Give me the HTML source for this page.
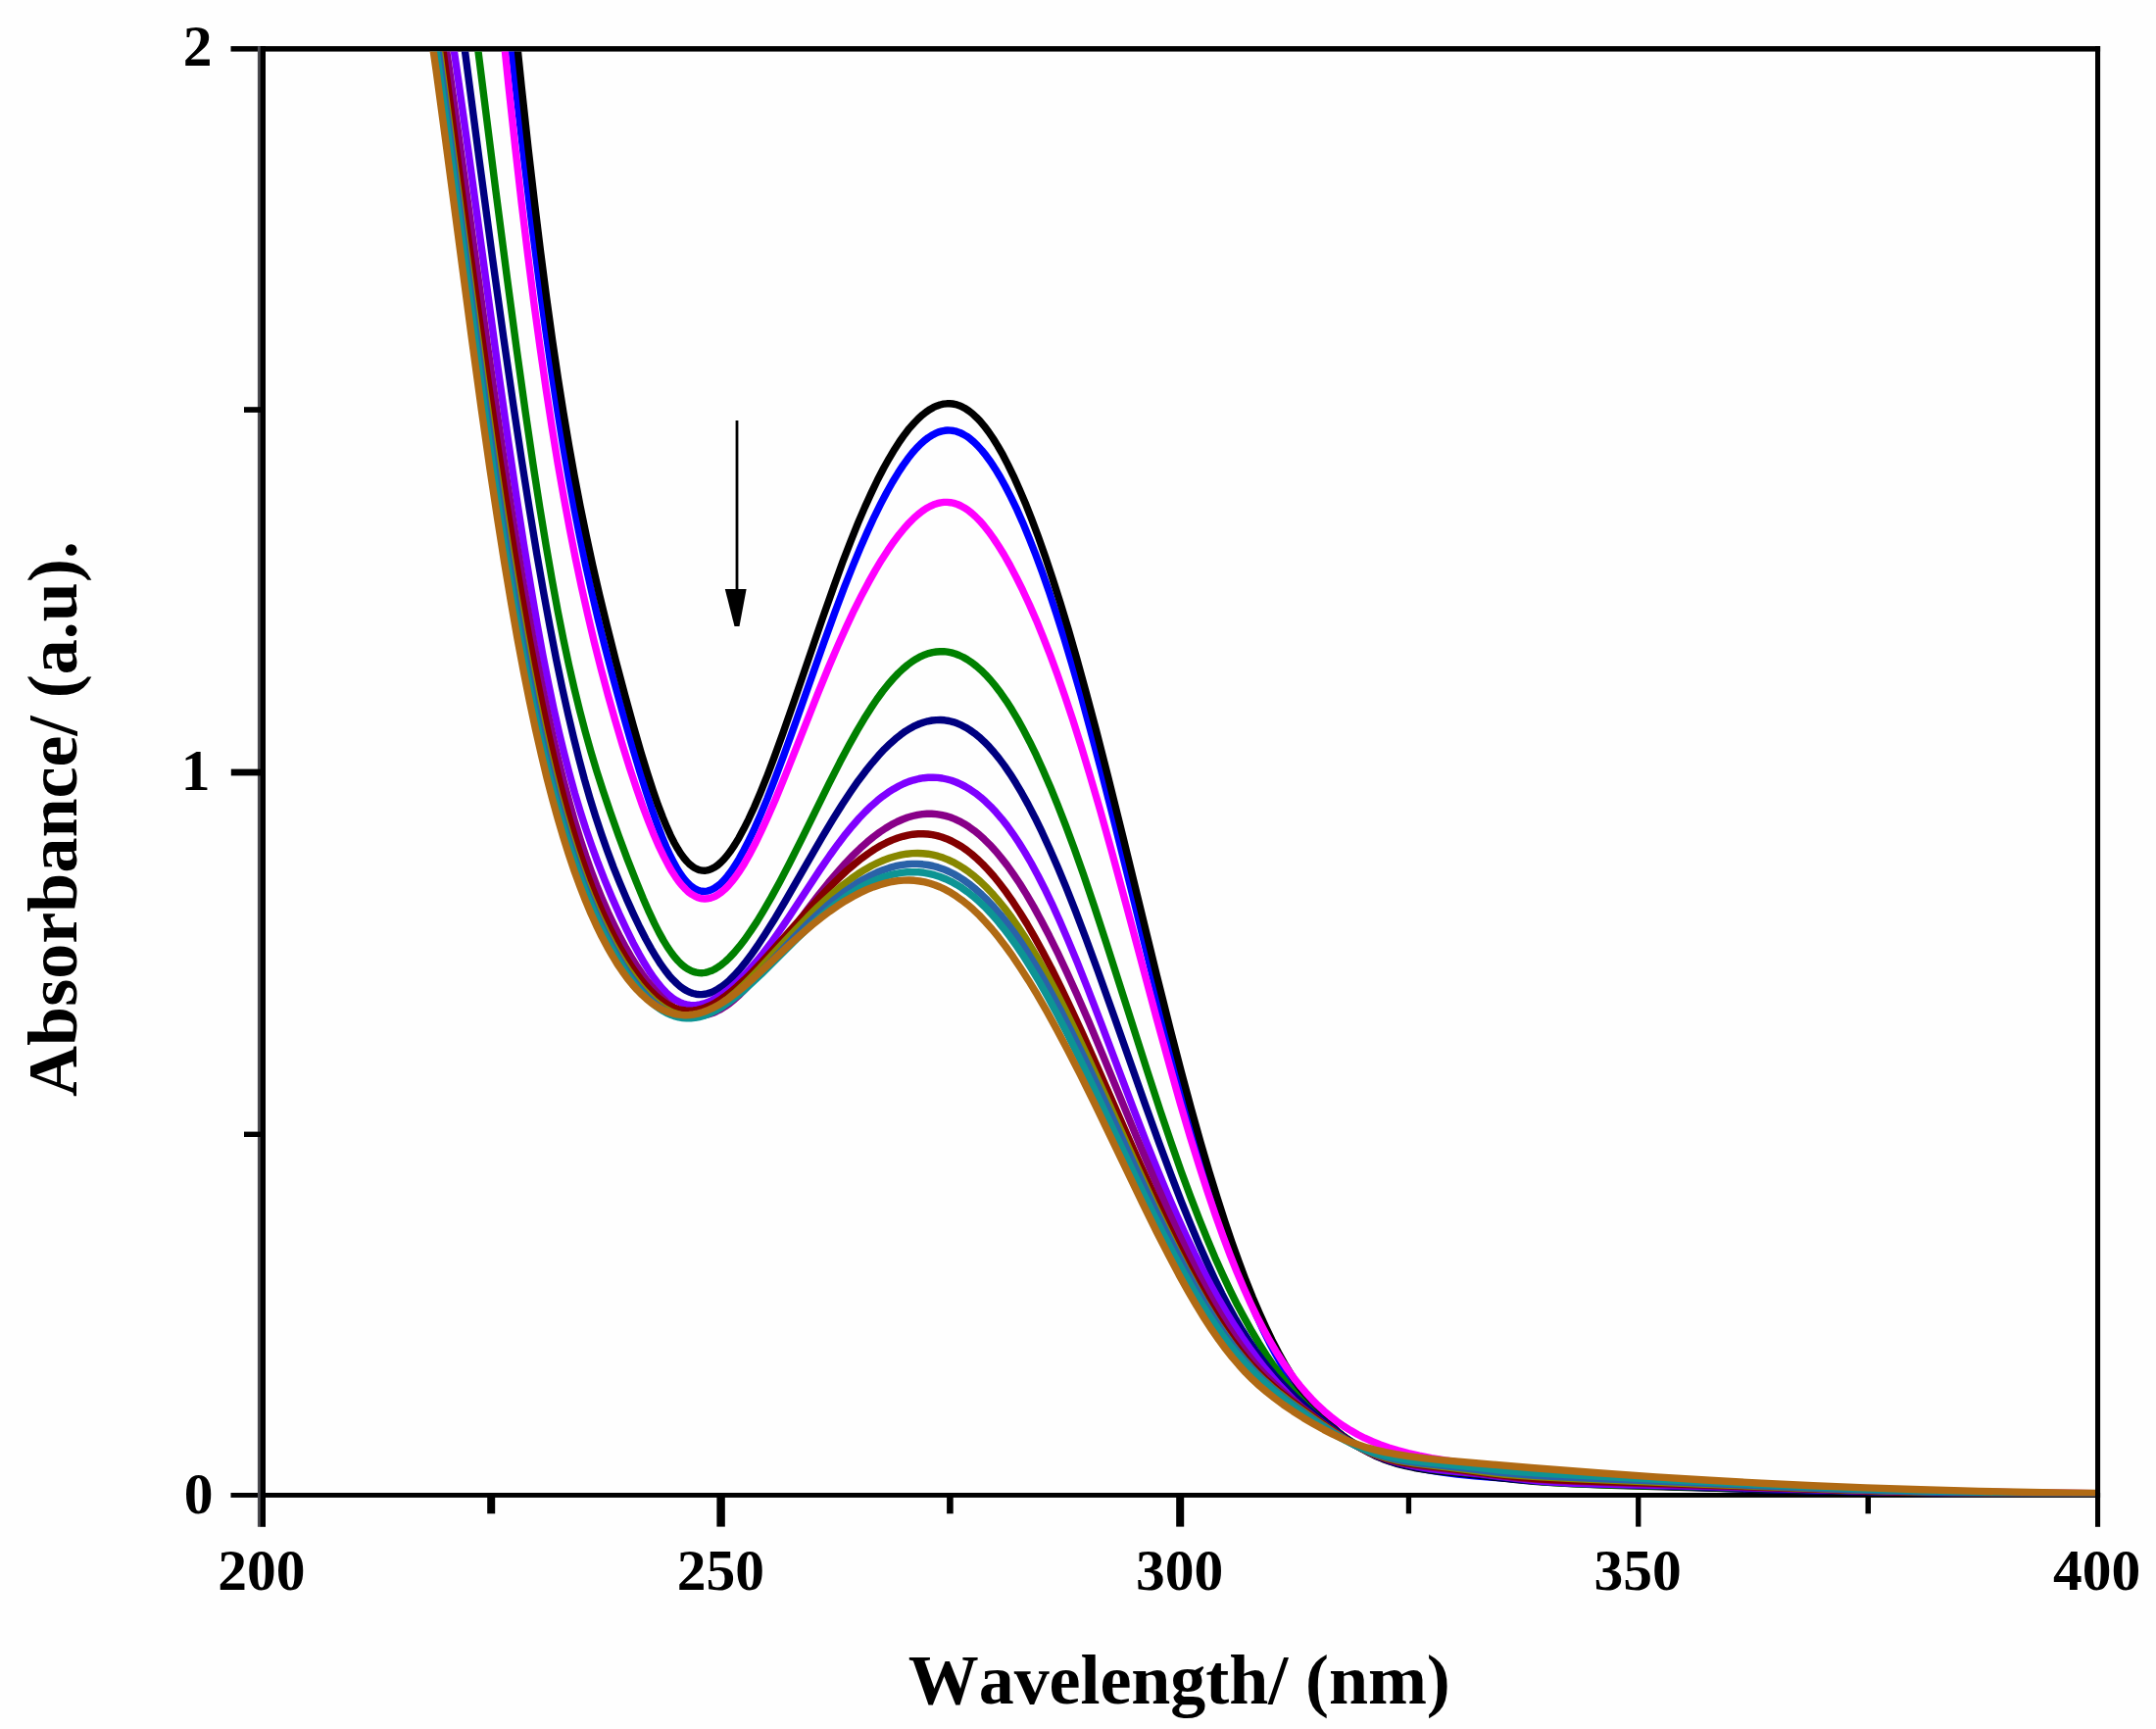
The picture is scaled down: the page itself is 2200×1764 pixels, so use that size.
<!DOCTYPE html>
<html><head><meta charset="utf-8"><title>UV-vis absorbance</title>
<style>
html,body{margin:0;padding:0;background:#fefefe;}
body{width:2200px;height:1764px;overflow:hidden;position:relative;}
svg{position:absolute;left:0;top:0;display:block}
text{font-family:"Liberation Serif","DejaVu Serif",serif;font-weight:bold;fill:#000;font-kerning:none}
.tk{font-size:59.5px;text-anchor:middle}
.lb{font-size:72px;text-anchor:middle}
</style></head><body>
<svg width="2200" height="1764" viewBox="0 0 2200 1764">
<defs><clipPath id="plot"><rect x="271" y="52.6" width="1867" height="1473.6"/></clipPath></defs>
<g fill="#000">
<rect x="235.5" y="47.1" width="1907.6" height="5.5"/>
<rect x="235.5" y="1523.0" width="1907.6" height="4.9"/>
<rect x="262.9" y="47.1" width="3.1" height="1510.7" fill="#4a4a50"/>
<rect x="265.7" y="47.1" width="5.3" height="1510.7"/>
<rect x="2138.0" y="47.1" width="5.1" height="1510.7"/>
<rect x="235.8" y="784.6" width="31.2" height="6.8"/>
<rect x="249.0" y="415.2" width="18.0" height="5.7"/>
<rect x="249.0" y="1154.6" width="18.0" height="5.4"/>
<rect x="731.4" y="1525.0" width="8.4" height="32.6"/>
<rect x="1200.2" y="1525.0" width="8.0" height="32.6"/>
<rect x="1669.1" y="1525.0" width="5.3" height="32.6"/>
<rect x="497.2" y="1525.0" width="8.0" height="19.3"/>
<rect x="966.1" y="1525.0" width="6.6" height="19.3"/>
<rect x="1434.8" y="1525.0" width="5.3" height="19.3"/>
<rect x="1903.5" y="1525.0" width="5.5" height="19.3"/>
</g>
<g clip-path="url(#plot)" fill="none" stroke-width="7.4" stroke-linejoin="round" stroke-linecap="butt">
<path d="M519.0,21.7 527.6,100.1 535.8,171.2 543.1,231.7 550.0,285.8 556.4,333.8 562.9,379.1 568.9,418.9 574.9,456.2 580.5,488.7 586.1,519.3 591.7,547.9 597.7,576.8 603.8,604.0 610.2,631.4 617.5,660.7 625.7,691.9 635.2,726.4 644.6,759.5 652.8,786.9 659.7,808.9 665.7,827.0 670.9,841.5 675.6,853.9 679.9,864.2 683.8,872.7 687.7,880.4 691.1,886.5 694.6,891.9 697.6,896.1 700.6,899.7 703.6,902.7 706.2,904.8 708.8,906.6 711.4,907.9 713.9,908.8 716.5,909.3 719.1,909.4 721.7,909.1 724.3,908.4 726.8,907.3 729.4,905.9 732.4,903.8 735.5,901.3 738.9,897.8 742.3,893.8 746.2,888.7 750.1,882.9 754.4,875.8 759.1,867.3 764.3,857.2 769.9,845.3 775.9,831.7 782.8,815.1 790.5,795.3 800.0,770.0 812.5,735.3 840.0,657.4 851.6,625.4 861.5,599.3 870.2,577.5 877.9,558.9 885.2,542.2 892.1,527.3 898.6,514.2 904.6,502.7 910.6,492.0 916.2,482.8 921.4,474.9 926.1,468.3 930.8,462.3 935.1,457.4 939.4,453.0 943.3,449.5 947.2,446.5 950.6,444.3 954.1,442.4 957.5,440.9 961.0,439.9 964.0,439.3 967.0,439.0 970.0,439.1 973.0,439.5 976.0,440.2 979.5,441.4 982.9,443.1 986.4,445.1 989.8,447.6 993.7,450.9 997.5,454.6 1001.8,459.4 1006.1,464.7 1010.9,471.2 1015.6,478.4 1020.8,487.0 1025.9,496.3 1031.5,507.1 1037.6,519.7 1043.6,533.2 1050.0,548.6 1056.5,565.0 1063.4,583.5 1070.7,604.3 1078.0,626.3 1085.8,650.8 1093.9,677.9 1103.0,709.3 1112.4,743.7 1123.2,784.3 1136.1,834.8 1155.1,910.9 1179.6,1010.0 1192.9,1062.5 1204.1,1105.1 1214.0,1141.5 1223.0,1173.3 1231.7,1202.3 1239.8,1228.5 1247.6,1252.2 1254.9,1273.3 1262.2,1293.4 1269.1,1311.2 1276.0,1327.9 1282.4,1342.7 1288.9,1356.6 1295.3,1369.7 1301.8,1381.8 1307.8,1392.4 1313.9,1402.3 1319.9,1411.5 1325.9,1420.1 1331.9,1428.0 1338.0,1435.3 1344.0,1442.0 1350.0,1448.2 1356.0,1453.9 1362.1,1459.2 1368.5,1464.2 1375.0,1468.9 1381.4,1473.0 1388.3,1477.0 1395.6,1480.8 1402.9,1484.2 1410.7,1487.4 1418.9,1490.3 1427.5,1492.9 1436.9,1495.5 1447.3,1497.8 1458.9,1500.0 1471.8,1502.0 1486.9,1504.0 1504.5,1505.8 1526.4,1507.6 1555.3,1509.6 1595.3,1511.8 1646.9,1514.3 1704.2,1516.6 1763.1,1518.6 1824.7,1520.2 1891.0,1521.6 1964.6,1522.7 2050.2,1523.5 2141.0,1524.1" stroke="#0000ff"/>
<path d="M525.4,22.9 532.3,89.7 539.2,152.9 545.7,208.7 551.7,257.8 557.7,304.1 563.7,347.5 569.3,385.3 574.9,420.8 580.5,454.1 586.1,485.3 592.1,516.7 598.2,546.3 604.6,576.0 611.5,606.1 619.3,638.2 628.3,673.9 637.8,709.7 646.4,741.0 654.1,767.8 660.6,788.9 666.2,806.1 671.3,820.9 676.1,833.4 680.4,843.8 684.2,852.3 688.1,860.0 691.6,866.1 695.0,871.4 698.0,875.5 701.0,879.0 703.6,881.6 706.2,883.7 708.8,885.5 711.4,886.8 713.9,887.7 716.5,888.1 719.1,888.2 721.7,887.9 724.3,887.2 726.8,886.1 729.4,884.7 732.4,882.6 735.5,879.9 738.5,876.9 741.9,872.9 745.8,867.7 749.7,861.9 754.0,854.8 758.7,846.1 763.9,835.8 769.5,823.7 775.5,809.7 782.4,792.7 790.1,772.4 799.1,747.5 811.2,712.9 839.2,631.1 850.4,599.4 859.8,573.6 868.0,552.3 875.7,533.2 882.6,517.1 889.1,502.9 895.5,489.5 901.6,477.8 907.2,467.8 912.8,458.4 917.9,450.5 923.1,443.2 927.8,437.1 932.6,431.7 936.9,427.2 941.2,423.3 945.0,420.3 948.9,417.7 952.4,415.7 955.8,414.2 959.2,413.0 962.7,412.2 966.1,411.8 969.1,411.7 972.1,412.0 975.2,412.6 978.6,413.7 982.0,415.2 985.5,417.1 988.9,419.4 992.4,422.1 996.2,425.7 1000.1,429.7 1004.4,434.8 1008.7,440.5 1013.5,447.5 1018.2,455.1 1023.4,464.2 1028.5,474.1 1034.1,485.6 1040.1,498.9 1046.2,513.2 1052.6,529.4 1059.5,547.8 1066.8,568.6 1074.1,590.5 1081.9,614.9 1090.1,641.9 1098.7,671.8 1108.1,706.0 1118.5,744.9 1130.5,792.0 1145.6,852.7 1180.4,995.3 1194.2,1050.3 1205.4,1093.6 1215.7,1132.0 1225.2,1165.9 1233.8,1195.3 1242.0,1221.9 1249.7,1246.0 1257.0,1267.5 1264.4,1288.0 1271.2,1306.2 1278.1,1323.4 1285.0,1339.5 1291.5,1353.8 1297.9,1367.1 1304.4,1379.7 1310.8,1391.3 1316.9,1401.5 1322.9,1411.0 1328.9,1419.8 1334.9,1428.0 1341.0,1435.6 1347.0,1442.6 1353.0,1449.1 1359.0,1455.0 1365.1,1460.5 1371.5,1465.8 1378.0,1470.6 1384.4,1474.9 1390.9,1478.8 1397.8,1482.5 1404.7,1485.8 1411.5,1488.7 1418.9,1491.3 1426.6,1493.7 1434.8,1495.7 1443.4,1497.5 1453.3,1499.1 1465.8,1500.8 1510.1,1505.4 1546.7,1509.5 1564.8,1511.2 1583.3,1512.6 1606.1,1513.8 1644.4,1515.2 1722.3,1517.5 1804.5,1519.6 1886.7,1521.3 1972.7,1522.7 2067.0,1523.7 2141.0,1524.3" stroke="#000000"/>
<path d="M512.1,20.2 519.0,87.8 525.9,151.6 532.3,208.2 538.8,261.6 545.2,311.9 551.3,356.1 557.3,397.7 563.3,436.8 569.3,473.5 575.4,507.9 581.4,540.1 587.4,570.5 593.4,599.0 599.9,627.7 606.3,654.8 613.2,682.1 620.5,709.5 627.9,735.5 635.2,760.1 642.5,783.5 649.4,804.2 655.8,822.5 661.9,838.5 667.5,852.3 672.6,864.0 677.4,873.9 681.7,882.1 685.5,888.8 689.4,894.8 692.8,899.6 696.3,903.8 699.7,907.4 702.7,910.2 705.8,912.4 708.8,914.2 711.4,915.4 713.9,916.3 716.5,916.8 719.1,917.0 721.7,916.8 724.3,916.4 726.8,915.6 729.9,914.3 732.9,912.5 735.9,910.4 739.3,907.5 742.8,904.1 746.6,899.6 750.5,894.6 754.8,888.5 759.6,880.9 764.7,871.9 770.3,861.3 776.3,849.0 783.2,834.0 791.0,816.2 800.9,792.2 816.4,753.3 834.4,707.8 845.6,680.5 855.1,658.4 863.7,639.2 871.4,622.8 878.8,608.2 886.1,594.4 893.0,582.1 899.4,571.4 905.9,561.4 911.9,552.7 917.5,545.3 922.7,539.0 927.8,533.3 932.6,528.5 936.9,524.7 941.2,521.4 945.0,518.8 948.9,516.6 952.8,514.8 956.2,513.7 959.7,512.8 963.1,512.4 966.6,512.4 970.0,512.7 973.4,513.4 976.9,514.5 980.3,516.0 983.8,517.9 987.6,520.4 991.5,523.5 995.4,527.0 999.7,531.3 1004.0,536.2 1008.7,542.2 1013.9,549.4 1019.1,557.2 1024.7,566.3 1030.7,576.9 1037.1,589.1 1043.6,602.2 1050.5,617.0 1057.4,632.7 1064.2,649.4 1071.6,668.2 1078.9,688.0 1086.6,710.1 1094.8,734.7 1103.4,761.8 1112.4,791.7 1122.8,827.2 1134.4,868.7 1149.9,925.8 1180.0,1038.2 1193.4,1086.8 1204.5,1126.2 1214.4,1159.7 1223.5,1189.0 1232.1,1215.6 1240.3,1239.7 1248.0,1261.3 1255.3,1280.6 1262.2,1297.9 1269.1,1314.1 1276.0,1329.4 1282.4,1342.9 1288.9,1355.5 1295.3,1367.4 1301.8,1378.4 1308.3,1388.7 1314.3,1397.6 1320.3,1405.9 1326.3,1413.6 1332.4,1420.7 1338.4,1427.3 1344.8,1433.8 1351.3,1439.8 1357.7,1445.2 1364.2,1450.2 1371.1,1455.0 1378.0,1459.3 1385.3,1463.5 1392.6,1467.2 1400.4,1470.7 1408.5,1473.9 1417.1,1477.0 1426.6,1479.9 1436.9,1482.6 1448.1,1485.2 1460.6,1487.6 1474.8,1490.0 1491.6,1492.3 1511.8,1494.7 1538.1,1497.4 1574.2,1500.5 1624.1,1504.4 1679.2,1508.3 1730.4,1511.6 1778.6,1514.3 1826.4,1516.5 1875.5,1518.4 1928.0,1520.1 1986.5,1521.5 2054.5,1522.6 2136.7,1523.6 2141.0,1523.7" stroke="#ff00ff"/>
<path d="M484.1,21.4 505.6,192.4 517.7,285.5 527.6,359.3 536.2,420.7 543.9,473.4 550.8,517.8 557.3,557.1 563.3,591.6 569.3,624.1 574.9,652.2 580.5,678.5 586.1,702.9 591.7,725.7 597.3,746.9 602.9,766.7 608.9,786.7 615.4,806.9 622.7,828.5 631.3,852.7 640.3,876.9 649.0,898.9 656.3,916.7 662.3,930.4 667.9,942.3 672.6,951.6 676.9,959.4 681.2,966.4 685.1,972.0 688.5,976.5 692.0,980.5 695.4,983.9 698.4,986.4 701.5,988.5 704.5,990.1 707.5,991.4 710.5,992.2 713.5,992.6 716.5,992.7 719.5,992.3 722.5,991.6 725.6,990.6 729.0,989.0 732.4,986.9 736.3,984.2 740.2,981.0 744.5,976.9 749.2,971.9 754.4,965.7 760.0,958.5 766.0,949.9 772.5,940.1 779.3,928.8 787.1,915.4 795.7,899.7 805.6,880.8 818.5,855.1 846.1,799.2 857.2,777.3 866.3,760.3 874.5,745.6 881.8,733.3 888.7,722.4 894.7,713.5 900.7,705.3 906.3,698.2 911.5,692.3 916.6,686.9 921.4,682.4 926.1,678.4 930.8,674.9 935.1,672.2 939.4,669.8 943.7,667.9 947.6,666.6 951.5,665.6 955.4,665.0 959.2,664.7 963.1,664.7 967.0,665.2 970.9,665.9 974.7,667.0 978.6,668.5 982.9,670.5 987.2,673.0 991.5,675.8 996.2,679.5 1001.0,683.7 1005.7,688.3 1010.9,694.0 1016.0,700.2 1021.2,707.1 1026.8,715.1 1032.4,723.8 1038.4,733.9 1044.4,744.8 1050.9,757.2 1057.4,770.4 1064.2,785.5 1071.6,802.4 1079.3,821.3 1087.5,842.3 1096.1,865.5 1105.6,892.2 1116.3,923.8 1129.2,963.1 1149.9,1027.7 1171.0,1093.7 1184.3,1134.4 1195.5,1167.3 1205.4,1195.4 1214.9,1221.1 1223.5,1243.4 1231.7,1263.7 1239.8,1282.9 1247.6,1300.2 1255.3,1316.6 1262.6,1331.3 1270.0,1345.1 1277.3,1358.2 1284.6,1370.4 1291.9,1382.0 1298.8,1392.1 1305.7,1401.7 1312.6,1410.6 1319.4,1419.0 1326.3,1426.8 1333.6,1434.5 1341.0,1441.7 1348.3,1448.3 1355.6,1454.4 1362.9,1460.0 1370.2,1465.2 1378.0,1470.2 1385.7,1474.7 1393.5,1478.9 1401.2,1482.6 1409.4,1486.0 1417.6,1489.1 1425.7,1491.7 1434.4,1494.1 1443.4,1496.2 1452.9,1498.0 1463.6,1499.6 1477.4,1501.1 1510.5,1504.4 1533.8,1507.2 1558.3,1510.1 1574.6,1511.8 1590.6,1512.9 1609.1,1513.9 1636.2,1514.8 1782.1,1518.3 1903.9,1521.3 1980.9,1522.8 2055.4,1523.9 2136.7,1524.7 2141.0,1524.7" stroke="#008000"/>
<path d="M470.4,21.0 489.3,165.1 502.6,264.0 513.8,344.2 523.7,412.5 532.3,469.5 540.5,521.2 547.8,565.3 554.7,604.7 561.2,639.7 567.6,672.7 573.6,701.6 579.7,728.8 585.3,752.4 590.9,774.6 596.4,795.3 602.0,814.6 607.6,832.7 613.7,851.0 619.7,868.0 626.1,885.1 632.6,901.2 639.5,917.4 646.4,932.6 652.8,946.0 658.8,957.8 664.4,967.9 669.6,976.6 674.3,983.9 678.6,989.9 682.9,995.4 686.8,999.7 690.7,1003.5 694.1,1006.5 697.6,1009.0 701.0,1011.0 704.0,1012.4 707.0,1013.5 710.1,1014.2 713.1,1014.5 716.1,1014.6 719.1,1014.3 722.1,1013.6 725.6,1012.6 729.0,1011.1 732.4,1009.2 736.3,1006.6 740.2,1003.7 744.5,999.9 749.2,995.2 754.4,989.5 760.0,982.7 766.0,974.8 772.9,965.0 780.6,953.3 789.7,938.8 800.9,920.0 822.4,882.7 838.7,854.5 849.9,835.9 859.4,820.8 868.0,807.8 875.7,796.7 883.1,786.9 890.0,778.3 896.4,770.8 902.4,764.3 908.0,758.9 913.6,753.9 918.8,749.8 923.9,746.1 928.7,743.2 933.4,740.6 938.2,738.5 942.5,737.0 946.8,735.8 951.1,735.0 955.4,734.6 959.7,734.5 964.0,734.8 968.3,735.5 972.6,736.6 976.9,738.1 981.2,739.9 985.5,742.2 989.8,744.9 994.5,748.2 999.3,752.1 1004.0,756.4 1009.2,761.7 1014.3,767.5 1019.5,773.9 1025.1,781.4 1030.7,789.6 1036.7,799.1 1042.7,809.2 1049.2,820.9 1056.1,834.2 1063.4,849.2 1071.1,866.0 1079.3,884.7 1087.9,905.4 1097.4,929.3 1108.1,957.5 1120.6,991.5 1137.4,1038.5 1168.8,1127.6 1183.0,1166.8 1195.1,1199.1 1205.4,1225.8 1214.9,1249.2 1223.5,1269.6 1231.7,1288.1 1239.4,1304.7 1246.7,1319.6 1254.0,1333.6 1260.9,1346.0 1267.8,1357.6 1274.3,1367.8 1280.7,1377.4 1287.2,1386.3 1293.6,1394.6 1300.5,1402.9 1307.8,1411.0 1315.6,1419.1 1323.8,1427.1 1332.8,1435.3 1343.1,1444.2 1353.9,1452.9 1363.8,1460.5 1372.8,1467.0 1381.0,1472.4 1388.7,1477.1 1396.1,1481.1 1402.9,1484.5 1409.8,1487.5 1416.7,1490.1 1423.6,1492.3 1430.9,1494.2 1438.7,1495.8 1447.7,1497.3 1459.3,1498.8 1492.9,1502.3 1514.4,1505.1 1539.4,1508.3 1555.3,1510.0 1571.2,1511.3 1590.1,1512.4 1618.1,1513.5 1705.5,1516.3 1807.9,1519.1 1891.4,1521.0 1971.4,1522.5 2054.9,1523.6 2141.0,1524.4" stroke="#000080"/>
<path d="M458.7,20.2 467.3,79.0 477.7,152.5 508.2,376.4 518.6,449.7 527.2,508.2 534.5,555.5 541.4,597.7 547.8,635.1 553.8,667.8 559.4,696.3 565.0,722.9 570.6,747.8 575.8,769.2 581.0,789.1 586.5,809.3 592.1,827.9 597.7,845.4 603.8,862.9 610.2,880.4 617.1,898.0 624.4,915.5 631.7,932.1 639.1,947.8 645.9,961.7 652.0,973.0 657.6,982.8 662.7,991.1 667.5,998.0 671.8,1003.7 675.6,1008.3 679.5,1012.4 683.4,1015.9 686.8,1018.6 690.3,1020.8 693.7,1022.6 697.2,1024.0 700.6,1024.9 704.0,1025.5 707.5,1025.7 710.9,1025.5 714.4,1024.9 718.2,1023.9 722.1,1022.6 726.4,1020.6 731.1,1018.0 735.9,1015.0 741.0,1011.3 746.6,1006.8 752.7,1001.4 758.7,995.5 765.1,988.7 772.0,980.8 778.9,972.3 786.7,962.1 794.8,950.7 804.7,936.1 822.8,908.5 837.0,886.9 846.9,872.5 855.1,861.2 862.8,851.1 869.7,842.7 876.6,834.8 883.1,828.0 889.1,822.2 895.1,816.9 900.7,812.4 906.3,808.4 911.9,804.9 917.1,802.0 922.2,799.5 927.4,797.4 932.6,795.8 937.7,794.5 942.5,793.7 947.2,793.3 951.9,793.2 956.7,793.4 961.4,794.0 966.1,795.0 970.9,796.3 975.6,798.0 980.3,800.1 985.1,802.6 990.2,805.7 995.4,809.2 1000.6,813.3 1005.7,817.8 1010.9,822.8 1016.5,828.8 1022.1,835.3 1027.7,842.4 1033.7,850.8 1039.7,859.8 1045.7,869.4 1052.2,880.5 1059.1,893.2 1066.0,906.7 1073.3,921.8 1081.0,938.8 1089.6,958.6 1099.1,981.4 1109.9,1008.5 1124.1,1045.4 1156.8,1131.9 1170.1,1166.3 1181.3,1194.2 1191.6,1218.9 1201.1,1240.7 1210.1,1260.5 1218.7,1278.6 1227.4,1295.8 1235.5,1311.3 1243.7,1326.0 1251.9,1339.9 1259.6,1352.4 1267.4,1364.3 1275.1,1375.4 1282.9,1386.0 1290.6,1395.9 1298.4,1405.2 1306.1,1413.9 1313.9,1422.1 1321.6,1429.8 1329.3,1437.0 1337.5,1444.0 1345.7,1450.5 1353.9,1456.6 1362.1,1462.1 1370.2,1467.3 1378.8,1472.2 1387.4,1476.7 1396.1,1480.7 1404.7,1484.3 1413.3,1487.6 1421.9,1490.4 1430.9,1492.9 1439.9,1495.1 1449.4,1496.9 1459.7,1498.5 1472.7,1500.1 1510.5,1503.9 1532.9,1506.6 1557.9,1509.6 1573.8,1511.2 1589.3,1512.4 1606.9,1513.3 1631.9,1514.1 1732.6,1516.4 1816.5,1518.8 1911.2,1521.5 1975.3,1523.0 2037.7,1524.0 2106.6,1524.8 2141.0,1525.0" stroke="#7f00ff"/>
<path d="M451.0,20.2 459.6,78.9 470.8,158.5 498.3,358.8 509.1,434.7 518.1,495.9 525.9,545.9 533.2,590.8 540.1,630.8 546.5,666.1 552.6,697.2 558.6,726.4 564.2,751.8 569.8,775.7 575.4,798.0 581.0,818.8 586.5,838.2 592.1,856.3 597.7,873.2 603.3,888.9 608.9,903.6 614.5,917.3 620.5,931.0 626.6,943.8 632.6,955.8 638.6,966.9 644.6,977.3 650.2,986.2 655.8,994.4 661.0,1001.4 666.2,1007.8 670.9,1013.2 675.6,1018.0 679.9,1022.0 684.2,1025.5 688.5,1028.5 692.4,1030.8 696.3,1032.7 700.2,1034.2 704.0,1035.3 707.9,1036.0 711.8,1036.2 715.7,1036.1 719.5,1035.6 723.4,1034.7 727.3,1033.5 731.1,1031.8 735.5,1029.6 739.8,1026.9 744.5,1023.6 749.7,1019.4 754.8,1014.7 760.8,1008.7 767.3,1001.6 774.6,993.1 783.2,982.3 794.4,967.7 824.1,927.6 835.7,912.5 845.6,900.2 854.7,889.6 862.8,880.5 870.6,872.4 877.9,865.3 884.8,859.2 891.2,853.9 897.7,849.0 903.7,845.0 909.7,841.4 915.3,838.5 920.9,836.0 926.1,834.0 931.3,832.5 936.4,831.3 941.2,830.6 945.9,830.3 950.6,830.2 955.4,830.6 960.1,831.3 964.8,832.4 969.6,833.8 974.3,835.6 979.0,837.8 983.8,840.4 988.9,843.7 994.1,847.4 999.3,851.6 1004.4,856.3 1010.0,861.8 1015.6,867.9 1021.6,875.1 1027.7,882.9 1034.1,891.9 1040.6,901.5 1047.5,912.6 1054.8,925.1 1062.5,939.1 1070.7,954.8 1079.3,972.2 1088.8,992.3 1099.1,1015.1 1111.2,1042.8 1126.2,1078.6 1164.9,1172.4 1179.6,1206.9 1191.6,1234.5 1202.4,1258.2 1212.3,1279.1 1221.3,1297.3 1229.9,1313.8 1237.7,1327.9 1245.0,1340.4 1252.3,1352.3 1259.2,1362.8 1266.1,1372.6 1272.5,1381.2 1279.0,1389.2 1285.4,1396.6 1292.3,1404.0 1299.7,1411.2 1307.4,1418.3 1316.4,1426.1 1327.6,1435.2 1342.3,1446.4 1356.5,1456.9 1367.2,1464.4 1376.3,1470.3 1384.4,1475.2 1391.7,1479.1 1398.6,1482.4 1405.5,1485.3 1412.4,1487.8 1419.7,1490.1 1427.5,1492.1 1435.6,1493.7 1445.5,1495.3 1459.7,1497.1 1488.6,1500.4 1530.8,1505.9 1547.1,1507.7 1563.5,1509.0 1582.8,1510.3 1612.1,1511.6 1719.7,1515.4 1814.8,1518.4 1890.5,1520.5 1962.8,1522.1 2037.3,1523.3 2119.5,1524.2 2141.0,1524.4" stroke="#880088"/>
<path d="M448.0,20.9 474.2,217.6 487.6,315.0 498.3,390.9 507.8,455.3 516.4,511.4 524.6,562.3 532.3,608.2 539.6,649.3 546.5,685.8 553.0,718.0 559.0,746.3 565.0,772.9 570.6,796.1 576.2,817.8 581.8,838.0 587.4,856.8 593.0,874.3 598.6,890.5 604.2,905.6 609.8,919.5 615.4,932.4 621.0,944.4 626.6,955.6 632.2,966.0 637.8,975.6 643.4,984.5 648.5,992.0 653.7,999.0 658.4,1004.8 663.2,1010.0 667.9,1014.7 672.2,1018.5 676.5,1021.8 680.4,1024.4 684.2,1026.5 688.1,1028.2 692.0,1029.5 695.9,1030.5 699.7,1031.0 703.6,1031.1 707.5,1030.9 711.4,1030.3 715.2,1029.4 719.5,1028.0 723.8,1026.2 728.6,1023.8 733.7,1020.7 739.3,1016.9 745.4,1012.3 751.8,1006.8 759.1,1000.1 767.3,992.1 777.2,981.8 789.7,968.1 824.1,929.2 836.6,915.5 846.9,904.8 856.0,895.9 864.1,888.3 871.9,881.6 879.2,875.7 886.1,870.7 892.5,866.4 898.6,862.8 904.6,859.7 910.2,857.1 915.8,855.0 921.4,853.3 926.5,852.1 931.7,851.2 936.9,850.8 942.0,850.7 946.8,851.0 951.5,851.6 956.2,852.6 961.0,854.0 965.7,855.7 970.9,858.0 976.0,860.7 981.2,863.8 986.4,867.4 991.5,871.4 997.1,876.3 1002.7,881.6 1008.3,887.5 1014.3,894.3 1020.3,901.8 1026.8,910.3 1033.7,920.2 1040.6,930.7 1047.9,942.5 1055.6,955.9 1063.8,970.7 1072.9,988.0 1082.3,1007.0 1093.1,1029.5 1105.1,1055.6 1120.6,1090.4 1161.5,1183.8 1176.6,1217.4 1189.0,1244.3 1200.2,1267.6 1210.1,1287.4 1219.2,1304.7 1227.8,1320.3 1236.0,1334.5 1243.7,1347.1 1251.0,1358.4 1257.9,1368.3 1264.8,1377.5 1271.2,1385.6 1277.7,1393.1 1284.2,1400.1 1291.0,1406.9 1298.4,1413.6 1306.1,1420.2 1315.6,1427.7 1328.5,1437.3 1351.3,1453.7 1364.6,1462.9 1374.1,1469.1 1382.3,1473.9 1389.6,1477.9 1396.5,1481.2 1403.4,1484.1 1410.3,1486.6 1417.1,1488.7 1424.5,1490.6 1432.6,1492.3 1442.5,1493.9 1456.7,1495.7 1488.1,1499.3 1535.1,1505.4 1552.3,1507.3 1568.6,1508.7 1586.7,1509.8 1609.5,1510.8 1704.6,1513.7 1783.8,1516.7 1868.6,1519.8 1927.5,1521.7 1983.5,1523.0 2042.4,1524.0 2109.6,1524.8 2141.0,1525.0" stroke="#830000"/>
<path d="M444.5,21.6 458.3,124.2 482.4,305.8 494.0,390.9 503.5,457.7 511.7,512.9 519.4,562.7 526.3,604.8 533.2,644.6 539.6,679.7 545.7,710.5 551.7,739.5 557.3,764.6 562.9,788.2 568.5,810.3 574.1,830.8 579.7,849.9 585.3,867.6 590.9,884.1 596.4,899.5 602.0,913.7 607.6,927.0 613.2,939.4 618.8,950.9 624.4,961.7 630.0,971.7 635.6,981.0 641.2,989.6 646.8,997.5 652.0,1004.3 657.1,1010.4 661.9,1015.4 666.6,1020.0 670.9,1023.6 675.2,1026.8 679.5,1029.6 683.4,1031.6 687.3,1033.3 691.1,1034.6 695.0,1035.5 698.9,1036.1 702.7,1036.2 706.6,1036.0 710.5,1035.5 714.4,1034.6 718.7,1033.2 723.0,1031.4 727.7,1029.1 732.4,1026.3 737.6,1022.8 743.2,1018.6 749.7,1013.2 757.0,1006.6 765.1,998.5 775.5,987.8 794.4,967.3 812.1,948.2 824.1,935.7 834.4,925.5 843.9,916.7 852.5,909.1 860.7,902.4 868.4,896.6 875.7,891.5 882.6,887.2 889.5,883.3 896.0,880.1 902.0,877.5 908.0,875.3 914.1,873.5 919.6,872.2 925.2,871.2 930.8,870.6 936.4,870.5 941.6,870.7 946.8,871.2 951.9,872.2 957.1,873.4 962.3,875.1 967.4,877.1 972.6,879.6 977.7,882.4 983.3,885.9 988.9,889.8 994.5,894.2 1000.1,899.1 1006.1,904.9 1012.2,911.2 1018.2,918.1 1024.7,926.0 1031.1,934.5 1038.0,944.3 1045.3,955.3 1052.6,967.1 1060.4,980.2 1068.5,994.8 1077.6,1011.8 1087.5,1031.3 1098.2,1053.5 1110.7,1080.1 1127.1,1116.1 1162.8,1195.8 1177.4,1227.7 1189.5,1253.1 1200.2,1274.9 1210.1,1294.2 1219.2,1311.0 1227.8,1326.3 1235.5,1339.2 1242.8,1350.8 1250.2,1361.7 1257.0,1371.3 1263.9,1380.2 1270.4,1388.0 1276.8,1395.3 1283.3,1402.0 1290.2,1408.6 1297.5,1415.1 1305.7,1421.8 1315.6,1429.4 1329.8,1439.7 1350.4,1454.2 1362.9,1462.5 1372.4,1468.5 1380.6,1473.2 1387.9,1477.0 1394.8,1480.2 1401.6,1483.1 1408.5,1485.5 1415.8,1487.6 1423.6,1489.5 1432.2,1491.1 1443.0,1492.8 1465.3,1495.5 1489.9,1498.6 1518.7,1502.4 1535.5,1504.2 1552.3,1505.6 1572.1,1506.9 1605.2,1508.5 1739.0,1514.2 1820.4,1517.6 1882.8,1519.8 1941.7,1521.5 2001.6,1522.9 2066.5,1523.9 2141.0,1524.6" stroke="#878700"/>
<path d="M443.2,22.9 452.7,91.5 466.9,198.1 485.4,338.0 495.7,413.6 504.4,474.1 512.1,526.2 519.4,572.9 526.3,614.5 532.8,651.3 538.8,683.6 544.8,714.1 550.8,742.6 556.4,767.4 562.0,790.7 567.6,812.4 573.2,832.7 578.8,851.7 584.4,869.3 590.0,885.8 595.6,901.2 601.2,915.5 606.8,928.9 612.4,941.3 618.0,953.0 623.6,963.8 629.2,973.8 634.7,983.2 640.3,991.8 645.5,999.1 650.7,1005.8 655.4,1011.4 660.1,1016.4 664.9,1021.0 669.2,1024.6 673.5,1027.9 677.8,1030.6 682.1,1033.0 686.0,1034.7 689.8,1036.0 693.7,1037.0 697.6,1037.7 701.5,1037.9 705.3,1037.9 709.2,1037.5 713.5,1036.7 717.8,1035.5 722.1,1033.9 726.8,1031.8 732.0,1029.1 737.2,1025.9 742.8,1022.0 748.8,1017.3 755.7,1011.5 763.4,1004.4 772.9,995.1 786.2,981.5 810.8,955.9 823.2,943.3 833.6,933.5 843.0,924.9 851.6,917.7 859.8,911.3 867.6,905.7 874.9,900.8 881.8,896.7 888.7,893.0 895.1,890.0 901.6,887.4 907.6,885.4 913.6,883.7 919.2,882.6 924.8,881.8 930.4,881.4 936.0,881.4 941.6,881.8 946.8,882.5 951.9,883.5 957.1,884.9 962.3,886.7 967.8,889.0 973.4,891.8 979.0,895.0 984.6,898.7 990.2,902.8 995.8,907.4 1001.8,912.8 1007.9,918.7 1014.3,925.6 1020.8,933.1 1027.2,941.2 1034.1,950.4 1041.4,960.9 1048.8,972.1 1056.5,984.6 1064.7,998.6 1073.7,1014.8 1083.2,1032.6 1093.9,1053.8 1106.0,1078.4 1121.1,1110.2 1164.1,1203.1 1178.7,1234.0 1191.2,1259.4 1202.0,1280.5 1211.9,1299.2 1220.9,1315.4 1229.5,1330.2 1237.7,1343.4 1245.4,1355.3 1252.7,1365.8 1259.6,1375.1 1266.5,1383.8 1273.4,1391.9 1280.3,1399.5 1287.2,1406.4 1294.5,1413.3 1302.2,1420.0 1310.8,1426.9 1321.2,1434.7 1334.5,1444.3 1349.1,1454.3 1360.8,1461.8 1370.2,1467.5 1378.8,1472.3 1386.6,1476.2 1393.9,1479.5 1401.2,1482.3 1408.5,1484.8 1416.3,1487.0 1424.5,1488.9 1433.5,1490.5 1444.7,1492.2 1463.6,1494.4 1495.9,1498.1 1528.2,1502.0 1547.1,1503.8 1566.0,1505.3 1588.4,1506.6 1631.0,1508.5 1707.2,1511.8 1822.5,1517.1 1882.8,1519.5 1937.9,1521.3 1993.0,1522.7 2051.9,1523.7 2119.1,1524.5 2141.0,1524.7" stroke="#2a62a8"/>
<path d="M440.7,20.7 447.5,68.0 455.7,127.0 467.8,217.7 486.3,358.2 496.2,430.8 504.4,488.3 511.7,537.2 518.6,580.9 525.0,619.6 531.5,656.1 537.5,688.0 543.5,718.0 549.1,744.1 554.7,768.6 560.3,791.5 565.9,812.9 571.5,833.0 577.1,851.7 582.7,869.2 588.3,885.5 593.9,900.8 599.5,915.2 605.5,929.5 611.5,942.9 617.1,954.5 622.7,965.3 628.3,975.3 633.9,984.6 639.5,993.2 644.6,1000.4 649.8,1007.1 654.5,1012.6 659.3,1017.6 664.0,1022.1 668.3,1025.7 672.6,1028.9 676.9,1031.6 681.2,1033.9 685.1,1035.6 689.0,1036.9 692.8,1037.9 696.7,1038.6 700.6,1038.9 704.9,1038.8 709.2,1038.4 713.5,1037.6 717.8,1036.4 722.5,1034.7 727.3,1032.6 732.4,1029.9 738.0,1026.5 744.1,1022.3 750.5,1017.4 757.8,1011.4 766.4,1003.6 776.8,993.8 794.8,975.8 812.9,957.8 825.0,946.3 835.3,936.9 844.3,929.2 852.9,922.4 861.1,916.4 868.9,911.1 876.2,906.6 883.1,902.8 889.5,899.6 896.0,896.9 902.4,894.5 908.5,892.7 914.5,891.3 920.1,890.4 925.7,889.8 931.3,889.6 936.9,889.8 942.5,890.3 948.0,891.3 953.6,892.7 959.2,894.5 964.8,896.7 970.4,899.3 976.0,902.4 981.6,905.9 987.2,909.9 992.8,914.3 998.8,919.6 1004.9,925.3 1010.9,931.6 1017.3,938.9 1023.8,946.8 1030.7,955.8 1037.6,965.4 1044.9,976.3 1052.6,988.6 1060.8,1002.2 1069.4,1017.4 1078.9,1034.9 1089.2,1054.8 1100.8,1078.2 1115.0,1107.7 1138.7,1158.2 1161.1,1205.9 1175.3,1235.4 1187.3,1259.7 1198.1,1280.5 1208.0,1298.8 1217.0,1314.8 1225.6,1329.3 1233.8,1342.3 1241.6,1354.0 1248.9,1364.3 1256.2,1373.9 1263.1,1382.4 1270.0,1390.4 1276.8,1397.8 1284.2,1405.1 1291.9,1412.3 1300.5,1419.7 1310.0,1427.3 1321.2,1435.9 1334.1,1445.2 1346.1,1453.4 1356.5,1460.1 1365.5,1465.5 1373.7,1470.0 1381.4,1473.8 1389.2,1477.2 1396.5,1480.1 1404.2,1482.7 1412.0,1484.8 1420.2,1486.7 1429.2,1488.4 1439.9,1490.0 1455.0,1491.8 1493.3,1495.8 1529.0,1499.7 1548.8,1501.5 1570.3,1503.0 1603.1,1504.8 1789.4,1514.2 1854.0,1517.1 1911.6,1519.3 1968.4,1521.0 2027.0,1522.4 2090.2,1523.6 2141.0,1524.2" stroke="#0d9494"/>
<path d="M437.6,20.1 445.0,71.3 454.4,140.9 481.5,346.0 491.4,418.4 500.0,478.7 507.8,530.3 514.7,573.9 521.6,615.2 528.0,651.6 534.5,686.0 540.5,716.1 546.5,744.3 552.6,770.8 558.1,793.8 563.7,815.4 569.3,835.6 574.9,854.5 580.5,872.2 586.1,888.7 591.7,904.0 597.3,918.4 602.9,931.7 608.5,944.1 614.1,955.5 619.7,966.1 624.9,975.2 630.0,983.6 635.2,991.3 640.3,998.3 645.5,1004.7 650.2,1010.0 655.0,1014.8 659.7,1019.1 664.4,1022.9 668.7,1025.9 673.1,1028.5 677.4,1030.7 681.7,1032.5 686.0,1033.8 690.3,1034.8 694.6,1035.4 698.9,1035.7 703.2,1035.5 707.5,1035.0 712.2,1034.1 716.9,1032.7 721.7,1031.0 726.8,1028.7 732.4,1025.8 738.0,1022.4 744.5,1018.1 751.4,1012.9 759.1,1006.6 768.6,998.4 781.5,986.5 806.0,963.5 818.1,952.7 828.4,943.9 837.9,936.3 846.5,929.9 854.7,924.2 862.4,919.2 870.2,914.7 877.5,910.9 884.4,907.7 891.2,904.9 897.7,902.7 904.2,900.9 910.2,899.5 916.2,898.6 921.8,898.1 927.4,898.0 933.0,898.3 938.6,899.0 943.7,899.9 948.9,901.3 954.1,903.0 959.2,905.0 964.8,907.7 970.4,910.8 976.0,914.4 981.6,918.4 987.2,922.8 993.2,928.1 999.3,933.9 1005.7,940.7 1012.2,948.0 1019.1,956.4 1026.4,966.0 1033.7,976.2 1041.4,987.7 1049.6,1000.4 1058.7,1015.3 1068.1,1031.7 1078.4,1050.4 1089.6,1071.5 1102.1,1095.9 1117.2,1126.3 1139.1,1171.8 1165.8,1227.3 1180.4,1257.0 1192.5,1280.6 1202.8,1300.1 1212.3,1317.1 1220.9,1331.9 1229.1,1345.2 1236.4,1356.4 1243.7,1366.9 1250.6,1376.2 1257.5,1384.9 1264.4,1392.9 1271.2,1400.4 1278.1,1407.3 1285.0,1413.7 1292.3,1419.9 1300.5,1426.4 1309.5,1433.1 1319.4,1439.8 1330.2,1446.7 1341.0,1453.1 1350.9,1458.6 1360.3,1463.4 1368.9,1467.4 1377.5,1471.0 1386.2,1474.1 1394.8,1476.9 1403.8,1479.3 1413.7,1481.6 1424.5,1483.6 1436.9,1485.6 1452.4,1487.6 1473.5,1489.9 1505.8,1492.8 1562.2,1497.5 1630.6,1502.7 1690.0,1506.9 1744.6,1510.3 1797.6,1513.2 1850.1,1515.8 1903.9,1517.9 1959.8,1519.8 2019.2,1521.4 2084.2,1522.7 2141.0,1523.5" stroke="#b06a14"/>
</g>
<g fill="#000">
<rect x="750.6" y="429" width="2.8" height="175"/>
<polygon points="739.8,601 761.6,601 754.5,639 749.5,639"/>
</g>
<text class="tk" x="201.5" y="66.8">2</text>
<text class="tk" x="199.5" y="805.6">1</text>
<text class="tk" x="202.7" y="1544.2">0</text>
<text class="tk" x="266.8" y="1622.3">200</text>
<text class="tk" x="735.3" y="1622.3">250</text>
<text class="tk" x="1203.7" y="1622.3">300</text>
<text class="tk" x="1671.2" y="1622.3">350</text>
<text class="tk" x="2139.5" y="1622.3">400</text>
<text class="lb" x="1203.3" y="1738.3" textLength="553" lengthAdjust="spacing">Wavelength/ (nm)</text>
<text class="lb" transform="translate(77.5,835.5) rotate(-90)" textLength="567" lengthAdjust="spacing">Absorbance/ (a.u).</text>
</svg>
</body></html>
